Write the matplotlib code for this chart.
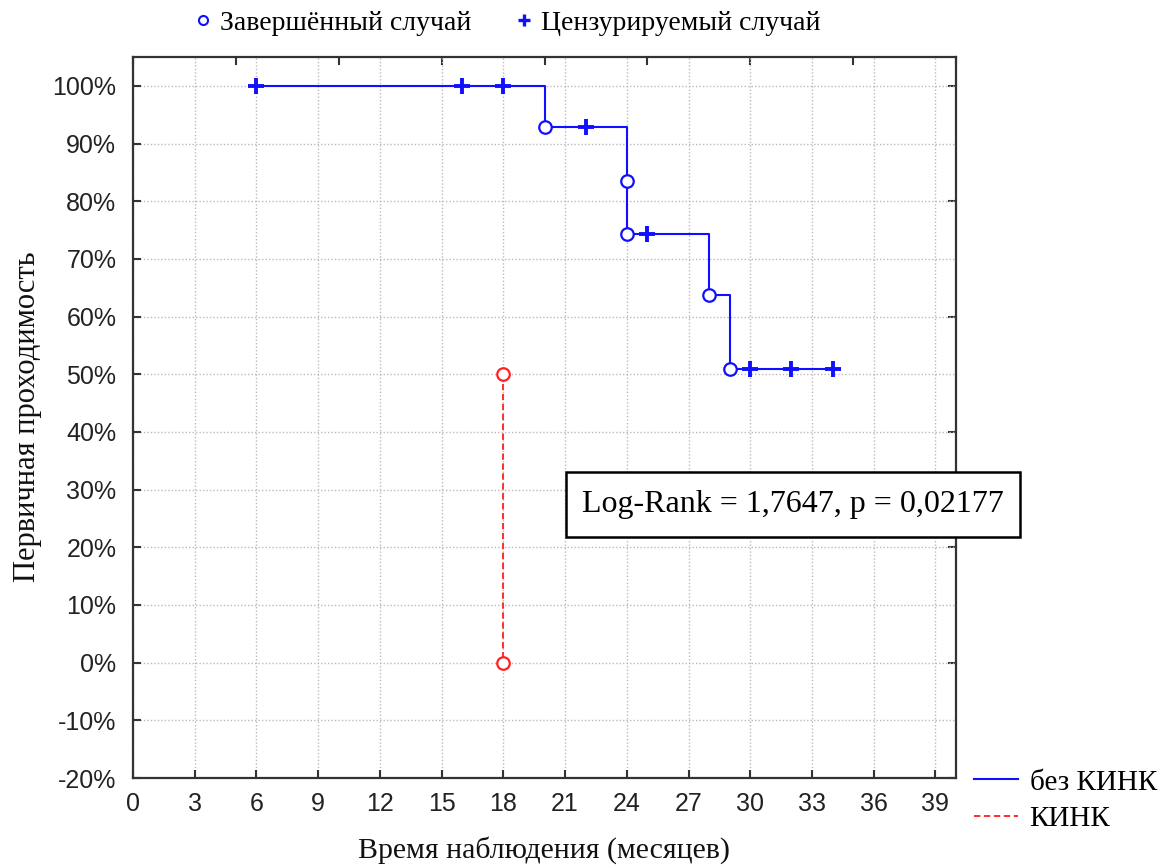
import matplotlib
matplotlib.use("Agg")
import matplotlib.pyplot as plt
from matplotlib.lines import Line2D
from matplotlib.patches import Rectangle

# Kaplan-Meier data, group without KINK (survival in %)
step_t = [6, 20, 24, 24, 28, 29, 34]
step_s = [100, 92.86, 83.57, 74.29, 63.67, 50.94, 50.94]
event_t = [20, 24, 24, 28, 29]
event_s = [92.86, 83.57, 74.29, 63.67, 50.94]
cens_t = [6, 16, 18, 22, 25, 30, 32, 34]
cens_s = [100, 100, 100, 92.86, 74.29, 50.94, 50.94, 50.94]

# Group with KINK
kink_t = [18, 18]
kink_s = [50, 0]

x_ticks = list(range(0, 40, 3))
y_ticks = list(range(-20, 101, 10))
stat_text = "Log-Rank = 1,7647, p = 0,02177"

SERIF = "Liberation Serif"
SANS = "Liberation Sans"
BLUE = "#1010ff"
RED = "#ff2020"
SPINE = "#333333"

fig = plt.figure(figsize=(11.73, 8.66), dpi=100)
ax = fig.add_axes([133 / 1173, 1 - 778 / 866, (956 - 133) / 1173, (778 - 57) / 866])

ax.set_xlim(0, 40)
ax.set_ylim(-20, 105)

# grid
ax.set_xticks(x_ticks)
ax.set_yticks(y_ticks)
ax.grid(True, color="#bbbbbb", linestyle=(0, (1, 1.5)), linewidth=1.0)
ax.set_axisbelow(True)

ax.set_xticklabels([str(v) for v in x_ticks], fontfamily=SANS, fontsize=18, color="#222222")
ax.set_yticklabels([f"{v}%" for v in y_ticks], fontfamily=SANS, fontsize=18, color="#222222")
ax.tick_params(direction="in", length=6, width=1.5, color=SPINE)
ax.tick_params(axis="y", pad=12)
ax.tick_params(axis="x", pad=10)

for sp in ax.spines.values():
    sp.set_color(SPINE)
    sp.set_linewidth(1.6)

# secondary ticks on top (every 5) and right (every 20)
top = ax.secondary_xaxis("top")
top.set_xticks(list(range(0, 41, 5)))
top.set_xticklabels([])
top.tick_params(direction="in", length=6, width=1.5, color=SPINE)
top.spines["top"].set_visible(False)
right = ax.secondary_yaxis("right")
right.set_yticks(list(range(-20, 101, 20)))
right.set_yticklabels([])
right.tick_params(direction="in", length=6, width=1.5, color=SPINE)
right.spines["right"].set_visible(False)

# curves
ax.step(step_t, step_s, where="post", color=BLUE, linewidth=1.5, zorder=3)
ax.plot(event_t, event_s, linestyle="none", marker="o", markersize=9,
        markerfacecolor="white", markeredgecolor=BLUE, markeredgewidth=1.6, zorder=4)
ax.plot(cens_t, cens_s, linestyle="none", marker="+", markersize=11,
        markeredgecolor=BLUE, markeredgewidth=2.8, zorder=4)
ax.plot(kink_t, kink_s, color=RED, linewidth=1.3, linestyle=(0, (3.5, 2)),
        marker="o", markersize=9, markerfacecolor="white",
        markeredgecolor=RED, markeredgewidth=1.6, zorder=4)

# axis labels
fig.text((133 + 956) / 2 / 1173, 1 - 850 / 866, "Время наблюдения (месяцев)",
         ha="center", va="center", fontfamily=SERIF, fontsize=21.5, color="#111111")
fig.text(28 / 1173, 1 - 417 / 866, "Первичная проходимость", rotation=90,
         ha="center", va="center", fontfamily=SERIF, fontsize=22, color="#111111")

# statistic box
bx0, bx1, by0, by1 = 566, 1020, 472, 537
fig.patches.append(Rectangle((bx0 / 1173, 1 - by1 / 866), (bx1 - bx0) / 1173, (by1 - by0) / 866,
                             transform=fig.transFigure, facecolor="white",
                             edgecolor="black", linewidth=1.8, zorder=5))
fig.text((bx0 + bx1) / 2 / 1173, 1 - (by0 + by1) / 2 / 866, stat_text,
         ha="center", va="center", fontfamily=SERIF, fontsize=23, color="black", zorder=6)

# marker legend on top
marker_handles = [
    Line2D([], [], linestyle="none", marker="o", markersize=6.5, markerfacecolor="white",
           markeredgecolor=BLUE, markeredgewidth=1.5),
    Line2D([], [], linestyle="none", marker="+", markersize=9, markeredgecolor=BLUE,
           markeredgewidth=2.4),
]
fig.legend(marker_handles, ["Завершённый случай", "Цензурируемый случай"],
           loc="center", bbox_to_anchor=(506 / 1173, 1 - 23 / 866), ncol=2,
           frameon=False, prop={"family": SERIF, "size": 20},
           handlelength=0.8, handletextpad=0.2, columnspacing=1.5)

# group legend bottom right
group_handles = [
    Line2D([], [], color=BLUE, linewidth=1.5),
    Line2D([], [], color=RED, linewidth=1.3, linestyle=(0, (3.5, 2))),
]
fig.legend(group_handles, ["без КИНК", "КИНК"],
           loc="upper left", bbox_to_anchor=(948 / 1173, 1 - 743 / 866),
           frameon=False, prop={"family": SERIF, "size": 21},
           handlelength=1.5, handletextpad=0.4, labelspacing=0.35)

fig.savefig("out.png", dpi=100)
